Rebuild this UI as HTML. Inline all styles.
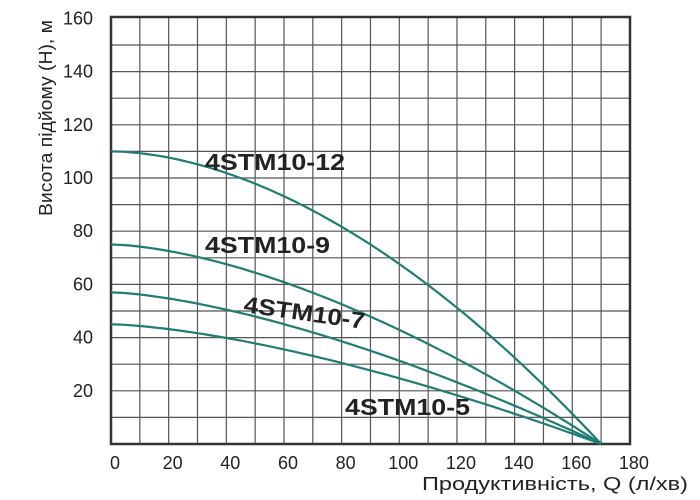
<!DOCTYPE html>
<html><head><meta charset="utf-8"><style>
html,body{margin:0;padding:0;background:#fff;width:700px;height:500px;overflow:hidden}
svg{display:block;font-family:"Liberation Sans",sans-serif}
</style></head><body>
<svg id="s" width="700" height="500" xmlns="http://www.w3.org/2000/svg">
<g id="grid"></g>
<rect x="111" y="17" width="519" height="427" fill="none" stroke="#333" stroke-width="2.5"/>
<g id="curves" fill="none" stroke="#1f7d76" stroke-width="2.2"></g>
<g font-size="18" fill="#222" text-anchor="middle" id="ticks"></g>
<text x="422" y="490" font-size="18" fill="#222" textLength="266" lengthAdjust="spacingAndGlyphs">Продуктивність, Q (л/хв)</text>
<text transform="translate(52,118) rotate(-90)" font-size="18" fill="#222" text-anchor="middle" textLength="196" lengthAdjust="spacingAndGlyphs">Висота підйому (H), м</text>
<g font-size="23" font-weight="bold" fill="#222" lengthAdjust="spacingAndGlyphs">
<text x="205" y="170" textLength="140" lengthAdjust="spacingAndGlyphs">4STM10-12</text>
<text x="205" y="253" textLength="125" lengthAdjust="spacingAndGlyphs">4STM10-9</text>
<text x="243" y="312" transform="rotate(8 243 312)" textLength="122" lengthAdjust="spacingAndGlyphs">4STM10-7</text>
<text x="345" y="415" textLength="125" lengthAdjust="spacingAndGlyphs">4STM10-5</text>
</g>
</svg>
<script>
var X=function(q){return 111+q*2.883},Y=function(h){return 444-h*2.66};
var g=document.getElementById('grid'),s='';
for(var q=10;q<180;q+=10)s+='<line x1="'+X(q)+'" y1="17" x2="'+X(q)+'" y2="444" stroke="#555" stroke-width="1.2"/>';
for(var h=10;h<160;h+=10)s+='<line x1="111" y1="'+Y(h)+'" x2="630" y2="'+Y(h)+'" stroke="#555" stroke-width="1.2"/>';
g.innerHTML=s;
var t='';
for(var q=0;q<=180;q+=20)t+='<text x="'+(X(q)+4)+'" y="469">'+q+'</text>';
for(var h=20;h<=160;h+=20)t+='<text x="93" y="'+(Y(h)+6)+'" text-anchor="end">'+h+'</text>';
document.getElementById('ticks').innerHTML=t;
var c='',cs=[[110,1.8],[75,1.6],[57,1.5],[45,1.5]];
cs.forEach(function(k){var d='';for(var q=0;q<=170;q+=2){var h=k[0]*(1-Math.pow(q/170,k[1]));d+=(q?'L':'M')+X(q).toFixed(1)+' '+Y(h).toFixed(1);}c+='<path d="'+d+'"/>';});
document.getElementById('curves').innerHTML=c;
</script>
</body></html>
